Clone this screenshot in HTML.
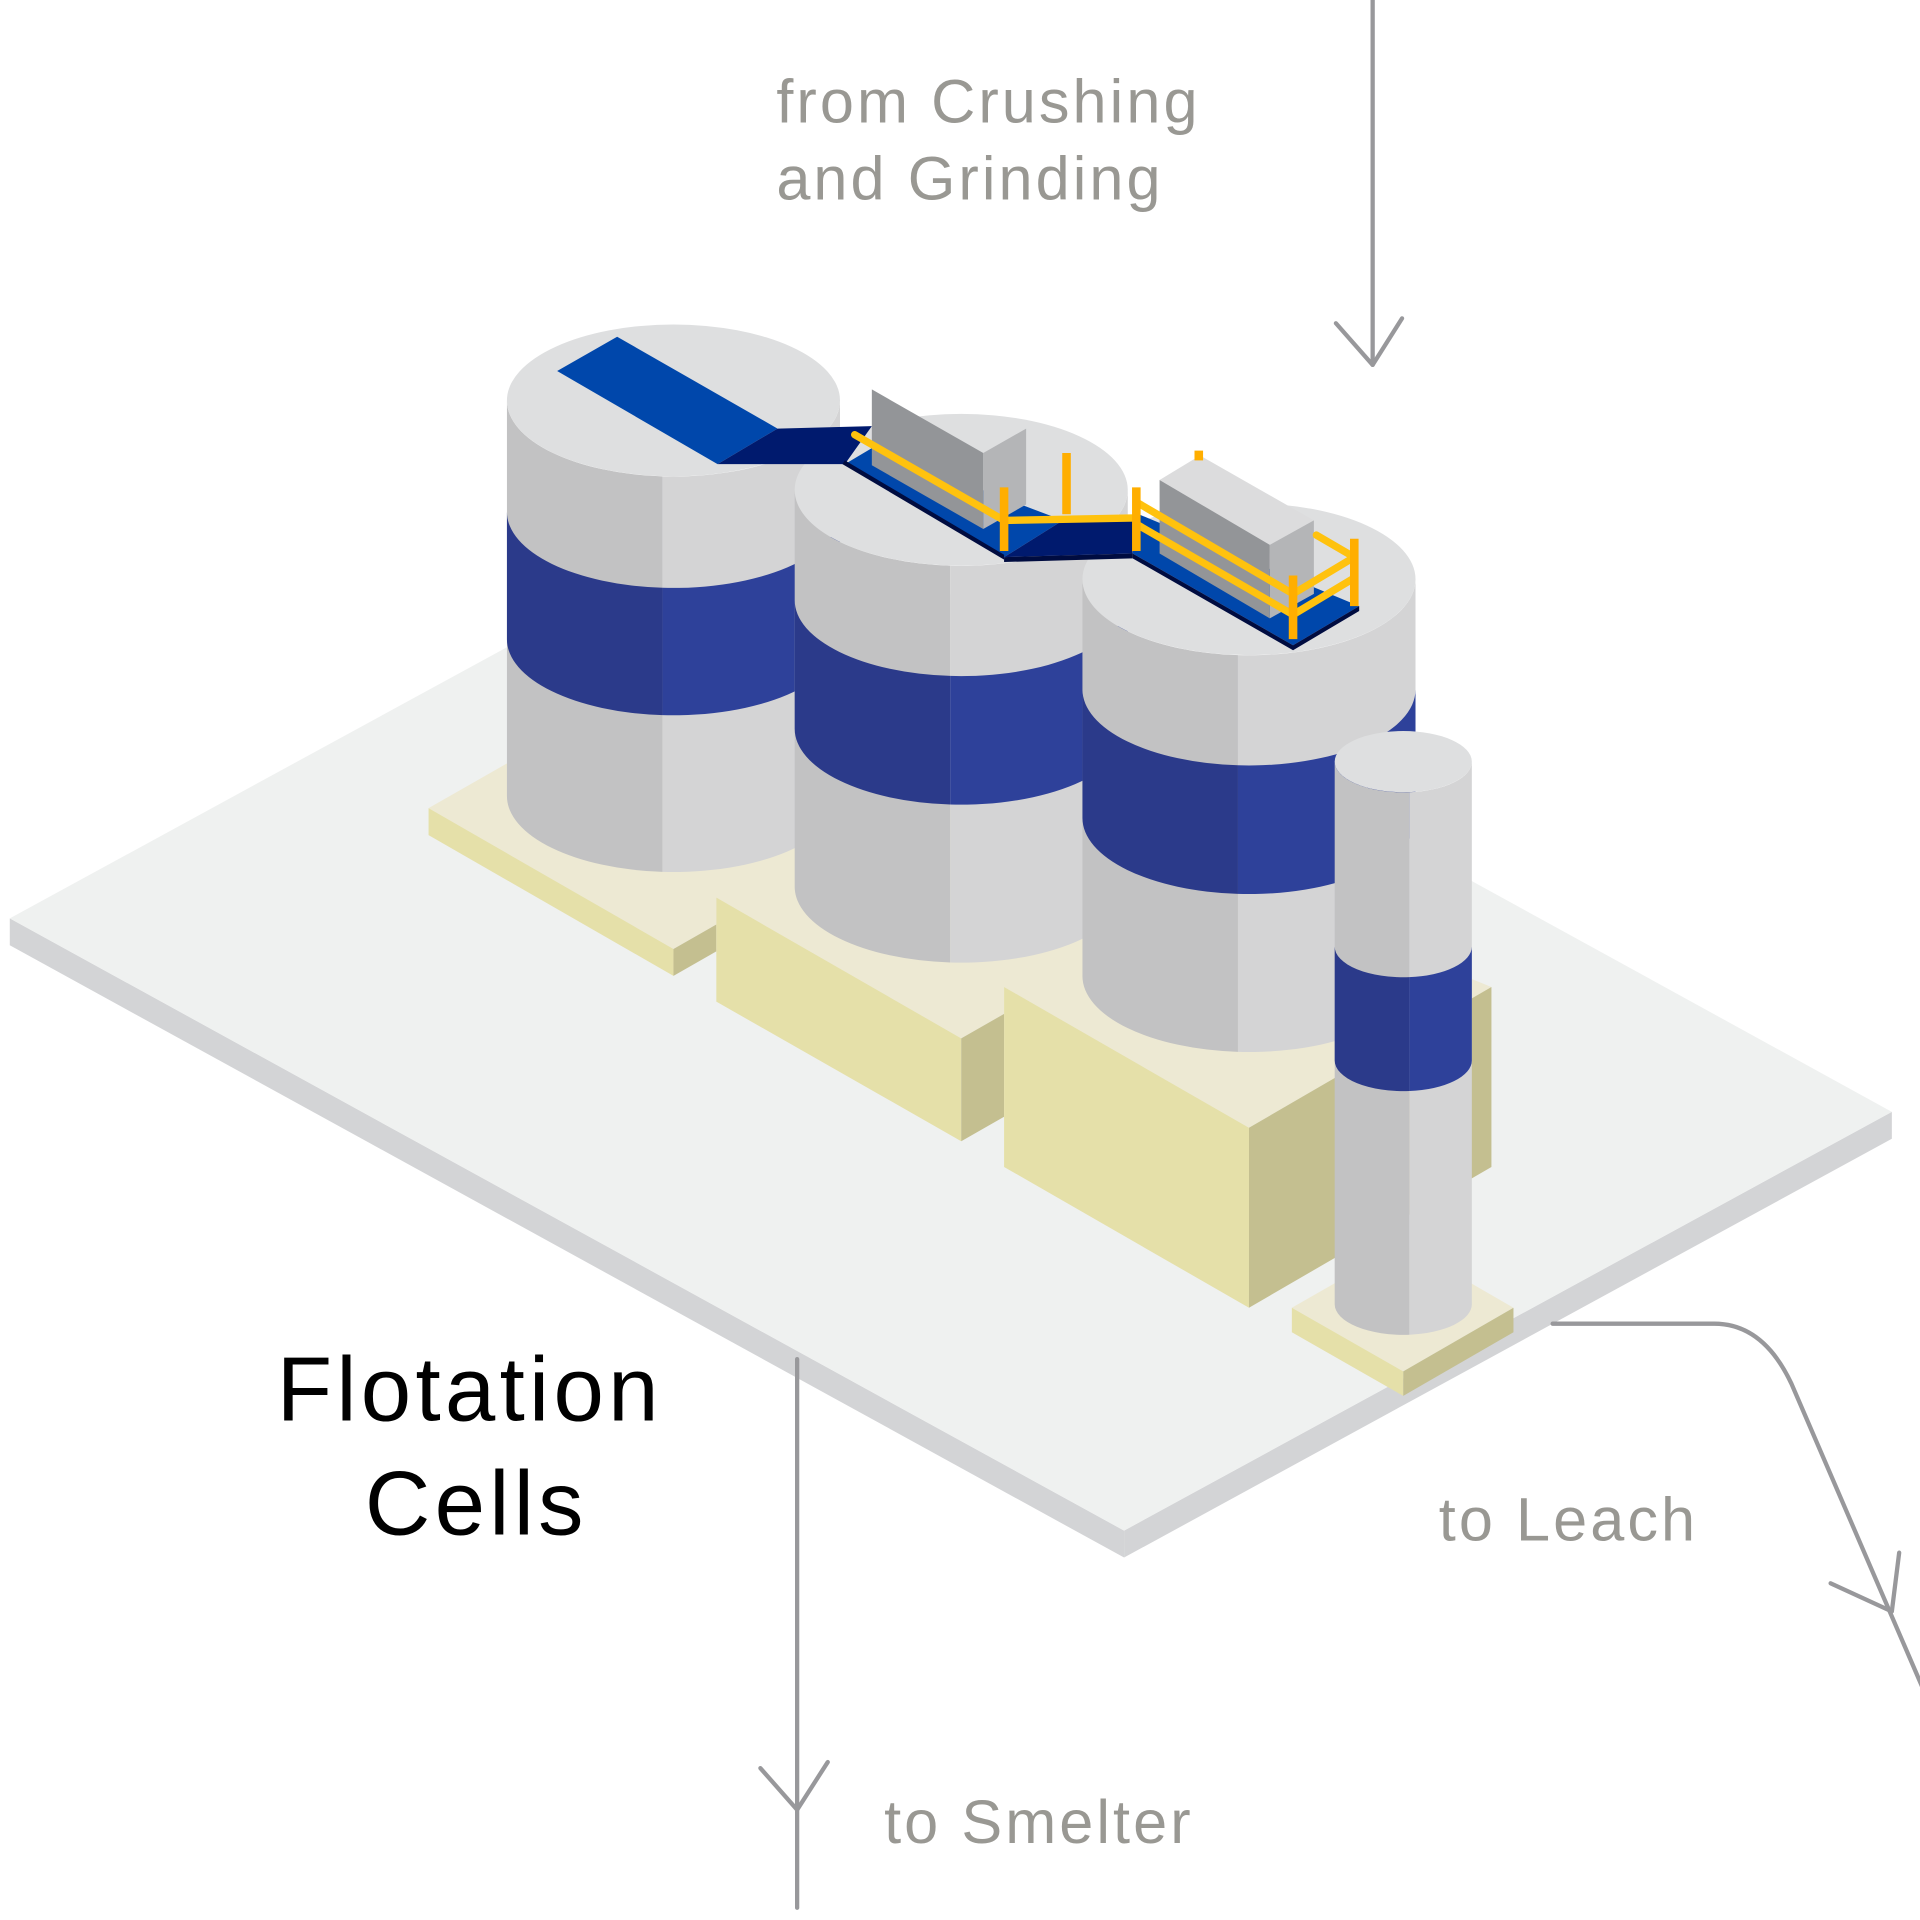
<!DOCTYPE html>
<html><head><meta charset="utf-8"><style>html,body{margin:0;padding:0;background:#fff}svg{display:block}</style></head>
<body>
<svg width="1920" height="1920" viewBox="0 0 1568 1568" xmlns="http://www.w3.org/2000/svg">
<polygon points="8,750 918,1250 918,1272 8,772" fill="#d3d4d6"/>
<polygon points="918,1250 1545,908 1545,930 918,1272" fill="#d3d4d6"/>
<polygon points="8,750 635,408 1545,908 918,1250" fill="#eff1f0"/>
<polygon points="350,660 560,540 1218,806 1020,921 820,806 820,828 785,848 585,733 585,755 550,775" fill="#ede9d3"/>
<polygon points="350,660 550,775 550,797 350,682" fill="#e5e0a9"/>
<polygon points="550,775 585,755 585,777 550,797" fill="#c4bf90"/>
<polygon points="585,733 785,848 785,932 585,818" fill="#e5e0a9"/>
<polygon points="785,848 820,828 820,912 785,932" fill="#c4bf90"/>
<polygon points="820,806 1020,921 1020,1068 820,953" fill="#e5e0a9"/>
<polygon points="1020,921 1218,806 1218,953 1020,1068" fill="#c4bf90"/>
<g>
<path d="M414,327 V650 A136,62 0 0 0 541,712 V389 A136,62 0 0 1 414,327Z" fill="#c2c2c3"/>
<path d="M541,389 V712 A136,62 0 0 0 686,650 V327 A136,62 0 0 1 541,389Z" fill="#d4d4d5"/>
<path d="M414,418 V522 A136,62 0 0 0 541,584 V480 A136,62 0 0 1 414,418Z" fill="#2b3a8a"/>
<path d="M541,480 V584 A136,62 0 0 0 686,522 V418 A136,62 0 0 1 541,480Z" fill="#2e419a"/>
<ellipse cx="550" cy="327" rx="136" ry="62" fill="#dedfe0"/>
</g>
<g>
<path d="M649,400 V724 A136,62 0 0 0 776,786 V462 A136,62 0 0 1 649,400Z" fill="#c2c2c3"/>
<path d="M776,462 V786 A136,62 0 0 0 921,724 V400 A136,62 0 0 1 776,462Z" fill="#d4d4d5"/>
<path d="M649,490 V595 A136,62 0 0 0 776,657 V552 A136,62 0 0 1 649,490Z" fill="#2b3a8a"/>
<path d="M776,552 V657 A136,62 0 0 0 921,595 V490 A136,62 0 0 1 776,552Z" fill="#2e419a"/>
<ellipse cx="785" cy="400" rx="136" ry="62" fill="#dedfe0"/>
</g>
<g>
<path d="M884,473 V797 A136,62 0 0 0 1011,859 V535 A136,62 0 0 1 884,473Z" fill="#c2c2c3"/>
<path d="M1011,535 V859 A136,62 0 0 0 1156,797 V473 A136,62 0 0 1 1011,535Z" fill="#d4d4d5"/>
<path d="M884,563 V668 A136,62 0 0 0 1011,730 V625 A136,62 0 0 1 884,563Z" fill="#2b3a8a"/>
<path d="M1011,625 V730 A136,62 0 0 0 1156,668 V563 A136,62 0 0 1 1011,625Z" fill="#2e419a"/>
<ellipse cx="1020" cy="473" rx="136" ry="62" fill="#dedfe0"/>
</g>
<polygon points="1055,1068 1146,1016 1236,1068 1146,1120" fill="#ede9d3"/>
<polygon points="1055,1068 1146,1120 1146,1140 1055,1088" fill="#e5e0a9"/>
<polygon points="1146,1120 1236,1068 1236,1088 1146,1140" fill="#c4bf90"/>
<path d="M1090,622 V1065 A56,25 0 0 0 1151,1090 V647 A56,25 0 0 1 1090,622Z" fill="#c2c2c3"/>
<path d="M1151,647 V1090 A56,25 0 0 0 1202,1065 V622 A56,25 0 0 1 1151,647Z" fill="#d4d4d5"/>
<path d="M1090,773 V866 A56,25 0 0 0 1151,891 V798 A56,25 0 0 1 1090,773Z" fill="#2b3a8a"/>
<path d="M1151,798 V891 A56,25 0 0 0 1202,866 V773 A56,25 0 0 1 1151,798Z" fill="#2e419a"/>
<ellipse cx="1146" cy="622" rx="56" ry="25" fill="#dedfe0"/>
<polygon points="455,303 504,275 635,350 586,379" fill="#0047ab"/>
<polygon points="586,379 635,350 712,348 690,379" fill="#001a6e"/>
<polygon points="690,379 712,366 868,425 820,455" fill="#0047ab"/>
<polygon points="688,379 820,457 820,453 690,376" fill="#000c40"/>
<polygon points="820,455 868,425 925,423 925,452" fill="#001a6e"/>
<polygon points="820,455 925,452 925,456 820,459" fill="#000c40"/>
<polygon points="925,452 930,420 1110,495 1056,527" fill="#0047ab"/>
<polygon points="925,452 1056,527 1110,495 1110,499 1056,531 925,456" fill="#000c40"/>
<polygon points="712,318 803,370 803,432 712,380" fill="#939598"/>
<polygon points="803,370 838,350 838,412 803,432" fill="#b4b5b7"/>
<polygon points="947,392 980,372 1073,425 1037,445" fill="#dcdcdd"/>
<polygon points="947,392 1037,445 1037,505 947,452" fill="#939598"/>
<polygon points="1037,445 1073,425 1073,485 1037,505" fill="#b4b5b7"/>
<g stroke="#ffc20e" stroke-width="6" stroke-linecap="round" fill="none">
<line x1="698" y1="355" x2="820" y2="425"/>
<line x1="820" y1="425" x2="928" y2="423"/>
<line x1="928" y1="410" x2="1056" y2="485"/>
<line x1="928" y1="428" x2="1056" y2="502"/>
<line x1="1056" y1="485" x2="1106" y2="455"/>
<line x1="1056" y1="502" x2="1106" y2="472"/>
<line x1="1075" y1="437" x2="1106" y2="455"/>
</g>
<g stroke="#ffae00" stroke-width="7" fill="none">
<line x1="820" y1="398" x2="820" y2="450"/>
<line x1="871" y1="370" x2="871" y2="420"/>
<line x1="928" y1="398" x2="928" y2="450"/>
<line x1="1056" y1="470" x2="1056" y2="522"/>
<line x1="1106" y1="440" x2="1106" y2="495"/>
<line x1="979" y1="368" x2="979" y2="376"/>
</g>
<g stroke="#98989b" stroke-width="3.5" fill="none" stroke-linecap="round" stroke-linejoin="round">
<line x1="1121" y1="0" x2="1121" y2="298"/>
<polyline points="1091,264 1121,298 1145,260"/>
<line x1="651" y1="1110" x2="651" y2="1558"/>
<polyline points="621,1444 651,1478 676,1439"/>
<path d="M1268,1081 H1400 Q1440,1081 1463,1130 L1570,1378"/>
<polyline points="1495,1293 1545,1316 1551,1268"/>
</g>
<g font-family="Liberation Sans, sans-serif" fill="#999893" font-size="50" letter-spacing="2.5">
<text x="634" y="100">from Crushing</text>
<text x="634" y="163">and Grinding</text>
<text x="1175" y="1258">to Leach</text>
<text x="722" y="1505">to Smelter</text>
</g>
<g font-family="Liberation Sans, sans-serif" fill="#000" font-size="74" letter-spacing="3.5">
<text x="226" y="1160">Flotation</text>
<text x="298" y="1253">Cells</text>
</g>
</svg>
</body></html>
